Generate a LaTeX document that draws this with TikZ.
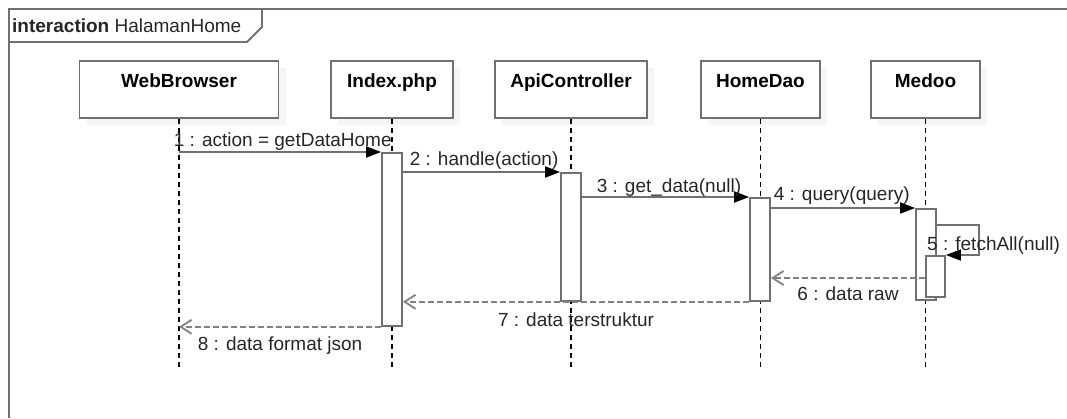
\documentclass[tikz,border=0pt]{standalone}
\usepackage{fontspec}
\setmainfont{Liberation Sans}
\usetikzlibrary{arrows.meta,shadows}

\definecolor{umlgray}{RGB}{112,112,112}
\definecolor{retgray}{RGB}{130,130,130}

\tikzset{
  frame/.style={umlgray, line width=1.8pt},
  lifehead/.style={draw=umlgray, line width=1.8pt, fill=white, inner sep=4pt,
    text height=22pt, text depth=27pt, font=\fontsize{19}{22}\selectfont\bfseries,
    drop shadow={shadow xshift=7pt, shadow yshift=-7pt, fill=black!4, opacity=1}},
  lifeline/.style={black, line width=1.2pt, dash pattern=on 5pt off 4pt},
  actbar/.style={draw=umlgray, line width=1.8pt, fill=white, minimum width=20pt,
    inner sep=0pt, anchor=north},
  msg/.style={umlgray, line width=1.8pt, -{Triangle[length=15pt,width=11pt,color=black]}},
  ret/.style={retgray, line width=1.8pt, dash pattern=on 6pt off 3pt,
    -{Straight Barb[length=11pt,width=14pt]}},
  msglbl/.style={font=\fontsize{19}{22}\selectfont, inner sep=0pt, text=black!85}
}

\begin{document}
\begin{tikzpicture}[x=1pt,y=-1pt]
\useasboundingbox (0,0) rectangle (1067,418);

% interaction frame and its tab
\draw[frame] (9,418) -- (9,9) -- (1067,9);
\draw[frame] (9,42) -- (247,42) -- (262,27) -- (262,9);
\node[anchor=base west, inner sep=0pt, font=\fontsize{19}{22}\selectfont, text=black!85] (title) at (12,32) {\textbf{interaction} HalamanHome};

% lifeline heads
\node[lifehead, minimum width=199pt] (web) at (179,89.5) {WebBrowser};
\node[lifehead, minimum width=122pt] (idx) at (392,89.5) {Index.php};
\node[lifehead, minimum width=152pt] (api) at (571,89.5) {ApiController};
\node[lifehead, minimum width=119pt] (home) at (760.5,89.5) {HomeDao};
\node[lifehead, minimum width=109pt] (med) at (925.5,89.5) {Medoo};

\coordinate (bottom) at (0,368);
\foreach \n in {web,idx,api,home,med}
  \draw[lifeline] (\n.south) -- (\n.south |- bottom);

% activation bars
\node[actbar, minimum height=173pt] (aidx) at (392,152) {};
\node[actbar, minimum height=128pt] (aapi) at (571,172) {};
\node[actbar, minimum height=103pt] (ahome) at (760,197) {};
\node[actbar, minimum height=91pt] (amed) at (926,208) {};
\node[actbar, minimum height=41pt, minimum width=19pt] (anest) at (935.5,255) {};

% calls
\draw[msg] (web |- aidx.north) -- (aidx.north west)
  node[msglbl, pos=0, anchor=base west, xshift=-6pt, yshift=6pt] (m1) {1 : action = getDataHome};
\draw[msg] (aidx.east |- aapi.north) -- (aapi.north west)
  node[msglbl, pos=0, anchor=base west, xshift=6pt, yshift=7pt] (m2) {2 : handle(action)};
\draw[msg] (aapi.east |- ahome.north) -- (ahome.north west)
  node[msglbl, pos=0, anchor=base west, xshift=14pt, yshift=5pt] (m3) {3 : get\_data(null)};
\draw[msg] (ahome.east |- amed.north) -- (amed.north west)
  node[msglbl, pos=0, anchor=base west, xshift=2pt, yshift=8pt] (m4) {4 : query(query)};

% self call on Medoo
\coordinate (self) at (979,225);
\draw[msg] (amed.east |- self) -- (self) |- (anest.north east);
\node[msglbl, anchor=base west] (m5) at (927,250) {5 : fetchAll(null)};

% returns
\coordinate (r6) at (0,278);
\draw[ret] (anest.west |- r6) -- (ahome.east |- r6)
  node[msglbl, midway, anchor=base, yshift=-22pt] (m6) {6 : data raw};
\draw[ret] (ahome.south west) -- (ahome.south west -| aidx.east)
  node[msglbl, midway, anchor=base, yshift=-25pt] (m7) {7 : data terstruktur};
\draw[ret] (aidx.south west) -- (aidx.south west -| web)
  node[msglbl, midway, anchor=base, yshift=-24pt] (m8) {8 : data format json};
\end{tikzpicture}
\end{document}
